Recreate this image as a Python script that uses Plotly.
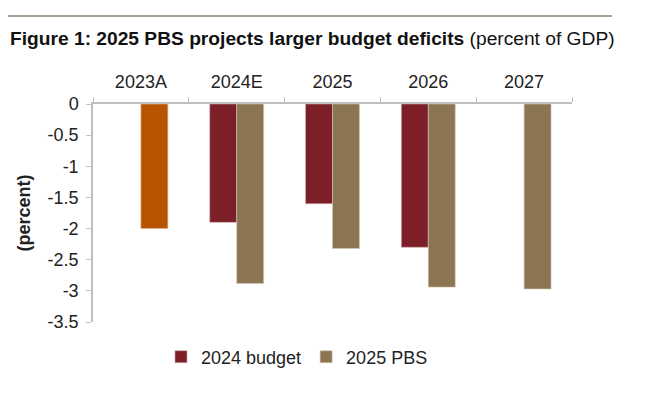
import plotly.graph_objects as go

categories = ["2023A", "2024E", "2025", "2026", "2027"]
budget_2024 = [None, -1.9, -1.6, -2.3, None]
pbs_2025 = [None, -2.88, -2.32, -2.94, -2.97]
actual_2023 = [-2.0, None, None, None, None]
y_tickvals = [0, -0.5, -1, -1.5, -2, -2.5, -3, -3.5]
y_ticktext = ["0", "-0.5", "-1", "-1.5", "-2", "-2.5", "-3", "-3.5"]

FONT = "Liberation Sans, Arial, sans-serif"
# page body has an 8px margin in the browser; compensate
OFF = 8
PL, PT, PW, PH = 93, 104, 479, 218  # target plot box in screenshot px

fig = go.Figure()
fig.add_trace(go.Bar(
    x=categories, y=budget_2024, name="2024 budget", offsetgroup="budget",
    marker=dict(color="#7D1F28", line=dict(width=0.6, color="#c9a9ab")),
))
fig.add_trace(go.Bar(
    x=categories, y=pbs_2025, name="2025 PBS", offsetgroup="pbs",
    marker=dict(color="#8B7553", line=dict(width=0.6, color="#d4c8b4")),
))
fig.add_trace(go.Bar(
    x=categories, y=actual_2023, name="2023 actual", offsetgroup="pbs", showlegend=False,
    marker=dict(color="#B85400", line=dict(width=0.6, color="#e0b89a")),
))

fig.update_layout(
    width=664, height=400,
    margin=dict(l=PL - OFF, r=664 - (PL - OFF) - PW, t=PT - OFF, b=400 - (PT - OFF) - PH,
                autoexpand=False),
    paper_bgcolor="white", plot_bgcolor="white",
    barmode="group", bargap=0.4375, bargroupgap=0,
    font=dict(family=FONT, color="#222222", size=18),
    showlegend=True,
    legend=dict(orientation="h", x=(297 - PL) / PW, xanchor="center",
                y=-(357 - (PT + PH)) / PH, yanchor="middle",
                font=dict(size=18, color="#222222"), itemclick=False),
    xaxis=dict(side="top", showline=True, linecolor="#BFBFBF", linewidth=1.5,
               ticks="outside", tickson="boundaries", ticklen=5, tickcolor="#BFBFBF",
               tickfont=dict(size=18, color="#222222"), showgrid=False, zeroline=False,
               ticklabelstandoff=7),
    yaxis=dict(range=[-3.5, 0], tickvals=y_tickvals, ticktext=y_ticktext,
               showline=True, linecolor="#BFBFBF", linewidth=1.5,
               ticks="outside", ticklen=5, tickcolor="#BFBFBF",
               tickfont=dict(size=18, color="#222222"), showgrid=False, zeroline=False,
               title=dict(text="<b>(percent)</b>", font=dict(size=18, color="#222222"), standoff=12),
               ticklabelstandoff=4),
)

fig.add_annotation(
    xref="paper", yref="paper", x=(8 - PL) / PW, y=(PT + PH - 38) / PH,
    xanchor="left", yanchor="middle", showarrow=False,
    text="<b>Figure 1: 2025 PBS projects larger budget deficits</b> (percent of GDP)",
    font=dict(size=19.2, color="#111111", family=FONT),
)
fig.add_shape(type="line", xref="paper", yref="paper",
              x0=(4 - PL) / PW, x1=(612 - PL) / PW,
              y0=(PT + PH - 16) / PH, y1=(PT + PH - 16) / PH,
              line=dict(color="#8C8070", width=1.5))

fig.write_html("out.html")
